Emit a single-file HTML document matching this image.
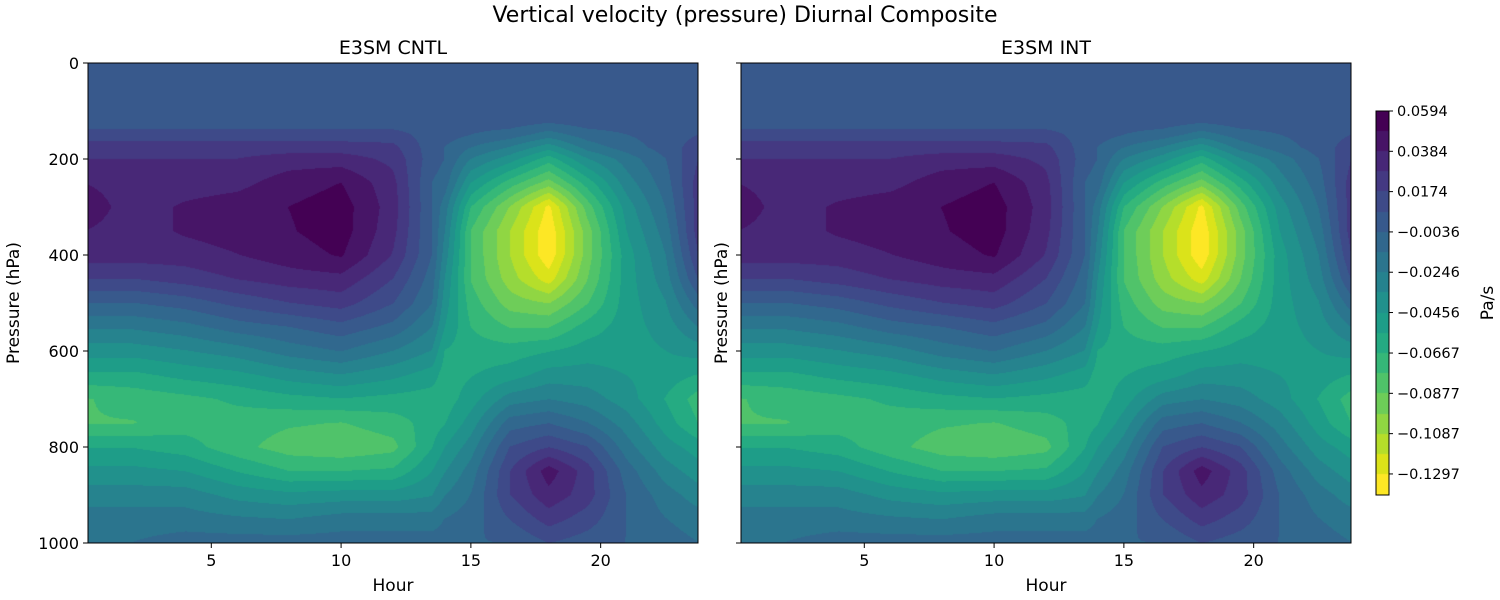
<!DOCTYPE html>
<html><head><meta charset="utf-8">
<style>
html,body{margin:0;padding:0;background:#fff;}
#wrap{position:relative;width:1500px;height:600px;overflow:hidden;font-family:"DejaVu Sans","Liberation Sans",sans-serif;}
canvas{position:absolute;}
svg{position:absolute;left:0;top:0;font-family:"DejaVu Sans","Liberation Sans",sans-serif;}
</style></head>
<body>
<div id="wrap">
<canvas id="c1" width="610" height="480" style="left:88px;top:63px"></canvas>
<canvas id="c2" width="610" height="480" style="left:741px;top:63px"></canvas>
<canvas id="cb" width="13" height="384" style="left:1376px;top:111px"></canvas>
<svg id="ov" width="1500" height="600"></svg>
</div>
<script>
// ---- data ----
const hours = [0.25,2,4,6,8,10,12,13.5,14,15,16.5,18,19.5,21,22.5,23.75];
const pressures = [0,100,125,150,175,200,250,300,350,400,450,500,550,600,650,700,750,800,850,900,950,1000];
const cntlValues = [
[.001,.001,.001,.001,.001,.001,.001,.001,.001,.001,.001,.001,.001,.001,.001,.001],
[.001,.001,.001,.001,.001,.001,.001,.001,.001,.001,.001,.001,.001,.001,.001,.001],
[.001,.001,.001,.001,.001,.001,.001,.001,.001,.001,.001,-.004,.001,.001,.001,.001],
[.012,.012,.012,.012,.012,.012,.012,.001,.001,-.004,-.009,-.020,-.009,-.004,.001,.007],
[.022,.022,.022,.022,.022,.022,.020,.001,-.004,-.014,-.025,-.041,-.020,-.009,.001,.012],
[.028,.028,.028,.028,.033,.033,.025,.001,-.004,-.025,-.041,-.062,-.036,-.020,-.004,.017],
[.038,.033,.033,.035,.044,.049,.031,-.004,-.009,-.046,-.072,-.093,-.062,-.030,-.009,.022],
[.044,.033,.040,.044,.049,.054,.033,-.004,-.020,-.067,-.099,-.133,-.083,-.041,-.014,.022],
[.038,.033,.040,.044,.048,.054,.031,-.004,-.025,-.078,-.109,-.138,-.093,-.046,-.020,.022],
[.033,.033,.033,.038,.044,.050,.027,-.004,-.030,-.078,-.109,-.138,-.093,-.051,-.025,.017],
[.017,.017,.022,.028,.033,.035,.017,-.009,-.036,-.078,-.104,-.125,-.088,-.051,-.030,.007],
[-.004,-.004,.001,.010,.017,.022,.007,-.014,-.041,-.072,-.093,-.099,-.078,-.051,-.036,-.009],
[-.023,-.023,-.018,-.009,-.004,.003,-.007,-.025,-.046,-.067,-.078,-.078,-.062,-.051,-.041,-.025],
[-.041,-.041,-.036,-.030,-.020,-.014,-.025,-.036,-.057,-.062,-.062,-.057,-.051,-.051,-.046,-.041],
[-.059,-.059,-.053,-.049,-.041,-.036,-.043,-.051,-.062,-.057,-.051,-.041,-.041,-.046,-.051,-.057],
[-.078,-.074,-.070,-.065,-.060,-.057,-.060,-.062,-.062,-.051,-.030,-.025,-.030,-.041,-.057,-.072],
[-.078,-.078,-.072,-.072,-.076,-.078,-.072,-.062,-.057,-.041,-.009,-.004,-.014,-.030,-.051,-.067],
[-.057,-.057,-.062,-.074,-.083,-.086,-.081,-.057,-.046,-.030,.007,.017,.007,-.020,-.041,-.051],
[-.043,-.043,-.046,-.057,-.067,-.067,-.065,-.046,-.036,-.020,.017,.044,.022,-.009,-.030,-.041],
[-.030,-.030,-.030,-.039,-.043,-.041,-.041,-.036,-.025,-.014,.017,.035,.022,-.004,-.020,-.030],
[-.020,-.020,-.020,-.023,-.025,-.020,-.020,-.020,-.014,-.009,.007,.022,.012,-.004,-.014,-.020],
[-.014,-.014,-.009,-.009,-.009,-.009,-.009,-.009,-.009,-.004,-.004,.007,.001,-.004,-.009,-.014]
];
const intValues = cntlValues.map(r => r.slice());
const levelTop = 0.0594;
const levelStep = 0.01053;
const levelCount = 20;
const colorbarTicks = ["0.0594","0.0384","0.0174","\u22120.0036","\u22120.0246","\u22120.0456","\u22120.0667","\u22120.0877","\u22120.1087","\u22120.1297"];
const colorbarTickValues = [0.0594,0.0384,0.0174,-0.0036,-0.0246,-0.0456,-0.0667,-0.0877,-0.1087,-0.1297];
const hourTicks = [5,10,15,20];
const pressureTicks = [0,200,400,600,800,1000];

const levels = [];
for (let k=0;k<levelCount;k++) levels.push(levelTop - k*levelStep);
const nb = levelCount-1;

const vir = [[68,1,84],[71,19,101],[72,36,117],[70,52,128],[65,68,135],[59,82,139],[53,95,141],[47,108,142],[42,120,142],[37,132,142],[33,145,140],[30,156,137],[34,168,132],[47,180,124],[68,191,112],[94,201,98],[122,209,81],[155,217,60],[189,223,38],[223,227,24],[253,231,37]];
function viridis(t){t=Math.max(0,Math.min(1,t));const f=t*20,i=Math.min(19,Math.floor(f)),r=f-i;const a=vir[i],b=vir[i+1];return [a[0]+(b[0]-a[0])*r,a[1]+(b[1]-a[1])*r,a[2]+(b[2]-a[2])*r];}
const bandColors=[];for(let k=0;k<nb;k++)bandColors.push(viridis(k/(nb-1)));
function bandOf(v){let k=Math.floor((levelTop-v)/levelStep);return Math.max(0,Math.min(nb-1,k));}

const PW=610,PH=480,H0=0.25,H1=23.75;
function xScale(h){return (h-H0)/(H1-H0)*PW;}
function yScale(p){return p/1000*PH;}
function findIdx(arr,v){for(let i=0;i<arr.length-1;i++){if(v<=arr[i+1])return i;}return arr.length-2;}
function sample(vals,h,p){const i=findIdx(hours,h),j=findIdx(pressures,p);
 const tx=Math.max(0,Math.min(1,(h-hours[i])/(hours[i+1]-hours[i])));
 const ty=Math.max(0,Math.min(1,(p-pressures[j])/(pressures[j+1]-pressures[j])));
 const a=vals[j][i],b=vals[j][i+1],c=vals[j+1][i],d=vals[j+1][i+1];
 return a*(1-tx)*(1-ty)+b*tx*(1-ty)+c*(1-tx)*ty+d*tx*ty;}
function drawField(id,vals){const cv=document.getElementById(id),ctx=cv.getContext('2d');const img=ctx.createImageData(PW,PH);
 for(let y=0;y<PH;y++){const p=(y+0.5)/PH*1000;for(let x=0;x<PW;x++){const h=H0+(x+0.5)/PW*(H1-H0);const c=bandColors[bandOf(sample(vals,h,p))];const o=(y*PW+x)*4;img.data[o]=c[0];img.data[o+1]=c[1];img.data[o+2]=c[2];img.data[o+3]=255;}}
 ctx.putImageData(img,0,0);}
drawField('c1',cntlValues);
drawField('c2',intValues);
// colorbar
(function(){const ctx=document.getElementById('cb').getContext('2d');const bh=384/nb;
 for(let k=0;k<nb;k++){const c=bandColors[k];ctx.fillStyle=`rgb(${c[0]|0},${c[1]|0},${c[2]|0})`;ctx.fillRect(0,Math.floor(k*bh),13,Math.ceil(bh)+1);}})();

const NS='http://www.w3.org/2000/svg';const ov=document.getElementById('ov');
function mk(tag,attrs,txt){const e=document.createElementNS(NS,tag);for(const k in attrs)e.setAttribute(k,attrs[k]);if(txt!==undefined)e.textContent=txt;ov.appendChild(e);return e;}
let t=mk('text',{x:745,y:22,'font-size':22,'text-anchor':'middle',fill:'#000'},'Vertical velocity (pressure) Diurnal Composite');


function panel(L,title,showY,nm){
 const T=63;
 let r=mk('rect',{x:L,y:T,width:PW,height:PH,fill:'none',stroke:'#000','stroke-width':1});
 
 
 let tt=mk('text',{x:L+PW/2,y:54,'font-size':19,'text-anchor':'middle'},title);
 
 
 hourTicks.forEach(h=>{const x=L+xScale(h);
  let ln=mk('line',{x1:x,y1:T+PH,x2:x,y2:T+PH+5,stroke:'#000'});
  
  
  let tx=mk('text',{x:x,y:T+PH+23,'font-size':16,'text-anchor':'middle'},String(h));
  
  });
 pressureTicks.forEach(p=>{const y=T+yScale(p);
  let ln=mk('line',{x1:L-5,y1:y,x2:L,y2:y,stroke:'#000'});
  
  
  if(showY){let tx=mk('text',{x:L-9,y:y+6,'font-size':16,'text-anchor':'end'},String(p));
  
  }});
 let xl=mk('text',{x:L+PW/2,y:591,'font-size':17,'text-anchor':'middle'},'Hour');
 
 
 const yx=showY?19:727;
 let yl=mk('text',{x:yx,y:T+PH/2,'font-size':17,'text-anchor':'middle',transform:`rotate(-90 ${yx} ${T+PH/2})`},'Pressure (hPa)');
 
 
}
panel(88,'E3SM CNTL',true,'cntl');
panel(741,'E3SM INT',false,'int');
let cbf=mk('rect',{x:1376,y:111,width:13,height:384,fill:'none',stroke:'#000','stroke-width':1});


const cbScale=v=>111+(levelTop-v)/(levelStep*nb)*384;
colorbarTickValues.forEach((v,i)=>{const y=cbScale(v);
 let ln=mk('line',{x1:1389,y1:y,x2:1393,y2:y,stroke:'#000'});
 
 
 let tx=mk('text',{x:1397,y:y+5,'font-size':14.5},colorbarTicks[i]);
 
 });
let cl=mk('text',{x:1493,y:303,'font-size':17,'text-anchor':'middle',transform:'rotate(-90 1493 303)'},'Pa/s');


</script>
</body></html>
